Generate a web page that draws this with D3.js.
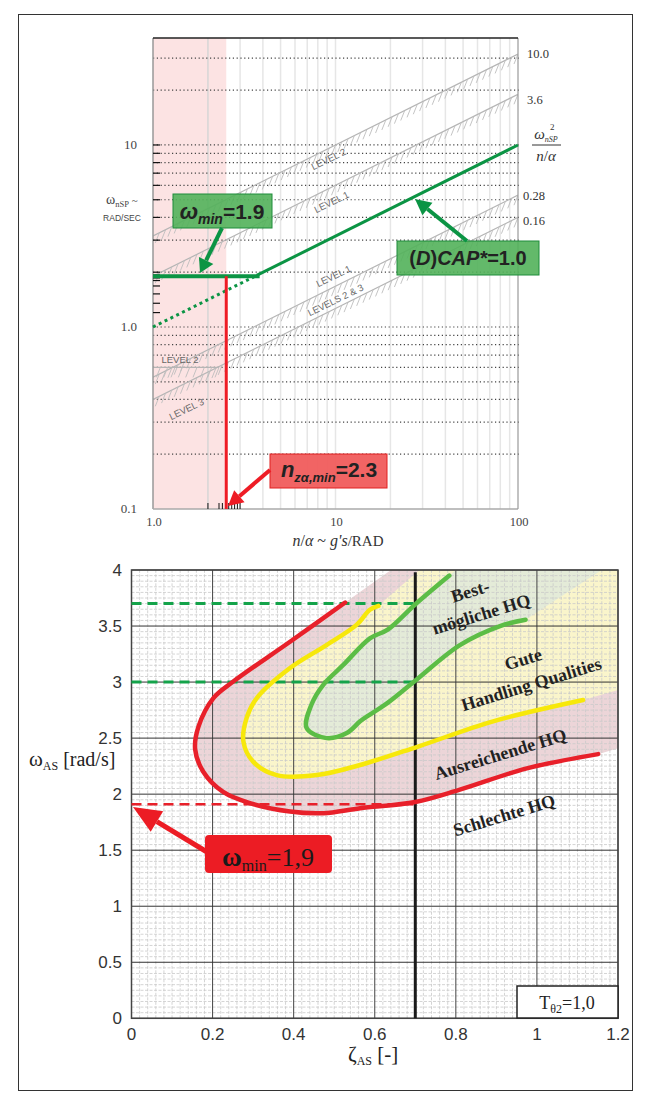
<!DOCTYPE html>
<html>
<head>
<meta charset="utf-8">
<script src="https://cdn.jsdelivr.net/npm/d3@7"></script>
<style>
  body { margin: 0; background: #fff; }
</style>
</head>
<body>
<svg id="fig" width="650" height="1104"></svg>
<script>
// ---------- top chart: CAP diagram (log-log) ----------
const capLabels = ['10.0', '3.6', '0.28', '0.16'];
const capOmegaLeft = [3.16, 1.9, 0.53, 0.40];   // omega at n/alpha = 1
const capOmegaRight = [31.6, 19.0, 5.3, 4.0];   // omega at n/alpha = 100
const gridOmega = [0.2, 0.3, 0.4, 0.5, 0.6, 0.7, 0.8, 0.9, 1, 2, 3, 4, 5, 6, 7, 8, 9, 10, 20, 30];
const gridNalpha = [2, 3, 4, 5, 6, 7, 8, 9, 10, 20, 30, 40, 50, 60, 70, 80, 90];
const leftTickOmega = [10, 9, 8, 7, 6, 5, 4, 3, 2, 1.93, 1.86, 1.8, 1.68, 1.52, 1.35, 1.2];
const bottomTickNalpha = [2, 2.3, 2.4, 2.6, 2.7, 2.8, 2.9, 3.0];
const yTickLabels = ['0.1', '1.0', '10'];
const yTickValues = [0.1, 1, 10];
const xTickLabels = ['1.0', '10', '100'];
const xTickValues = [1, 10, 100];
const capStarN = [1.0, 3.7, 100];
const capStarW = [1.0, 1.92, 10];
const omegaMin = 1.9;
const omegaMinEndN = 3.84;
const nzMin = 2.52;
const level2Omega = 0.6;
const level2EndN = 2.3;

// ---------- bottom chart: omega_AS vs zeta_AS ----------
const redCurve = [[0.527,3.71],[0.391,3.36],[0.251,3.005],[0.202,2.857],[0.165,2.60],[0.157,2.40],
  [0.177,2.20],[0.226,2.02],[0.292,1.92],[0.391,1.845],[0.473,1.83],[0.564,1.875],[0.70,1.93],
  [0.81,2.04],[0.975,2.23],[1.151,2.357]];
const yellowCurve = [[0.609,3.68],[0.588,3.645],[0.555,3.51],[0.481,3.33],[0.391,3.125],[0.309,2.857],
  [0.284,2.68],[0.276,2.47],[0.30,2.29],[0.358,2.17],[0.457,2.17],[0.564,2.26],[0.707,2.425],
  [0.892,2.65],[1.114,2.84]];
const greenCurve = [[0.784,3.95],[0.699,3.69],[0.633,3.47],[0.588,3.39],[0.523,3.155],[0.473,2.976],
  [0.444,2.80],[0.432,2.59],[0.481,2.50],[0.531,2.545],[0.564,2.65],[0.588,2.71],[0.63,2.81],
  [0.699,3.01],[0.81,3.33],[0.909,3.50],[0.972,3.556]];
const redBand = [[1.2,2.41],[1.2,4.0],[0.64,4.0]];
const yellowBand = [[1.2,2.93],[1.2,4.0],[0.71,4.0]];
const greenBand = [[1.16,4.0],[0.80,4.0]];
const dashedGreen = [3.7, 3.0];
const dashedRed = 1.91;
const zetaLimit = 0.7;
const xTicksB = [0, 0.2, 0.4, 0.6, 0.8, 1, 1.2];
const yTicksB = [0, 0.5, 1, 1.5, 2, 2.5, 3, 3.5, 4];

const svg = d3.select('#fig');
const serif = 'Liberation Serif, Times New Roman, serif';
const sans = 'Liberation Sans, Arial, sans-serif';

// outer frame
svg.append('rect').attr('x', 18.5).attr('y', 14.5).attr('width', 614).attr('height', 1076)
  .attr('fill', 'none').attr('stroke', '#333').attr('stroke-width', 1);

function arrow(g, x1, y1, x2, y2, color, w, hl, hw) {
  const a = Math.atan2(y2 - y1, x2 - x1);
  const bx = x2 - hl * Math.cos(a), bY = y2 - hl * Math.sin(a);
  g.append('line').attr('x1', x1).attr('y1', y1).attr('x2', bx).attr('y2', bY)
    .attr('stroke', color).attr('stroke-width', w);
  g.append('path')
    .attr('d', `M${x2},${y2}L${bx + hw * Math.sin(a)},${bY - hw * Math.cos(a)}L${bx - hw * Math.sin(a)},${bY + hw * Math.cos(a)}Z`)
    .attr('fill', color);
}

function rich(g, x, y, parts, opts) {
  const t = g.append('text').attr('x', x).attr('y', y)
    .attr('text-anchor', opts.anchor || 'start')
    .attr('font-family', opts.family).attr('fill', opts.fill || '#222')
    .attr('font-weight', opts.weight || 'normal');
  parts.forEach(p => {
    t.append('tspan').attr('font-size', p.size).attr('font-style', p.italic ? 'italic' : 'normal')
      .attr('dy', p.dy || 0).attr('font-weight', p.weight || null).text(p.t);
  });
  return t;
}

// ================= TOP CHART =================
const tx = d3.scaleLog().domain([1, 100]).range([153, 518]);
const ty = d3.scaleLog().domain([0.1, 38.7]).range([509, 38]);
const topG = svg.append('g');

svg.append('clipPath').attr('id', 'clipTop').append('rect')
  .attr('x', 153).attr('y', 38).attr('width', 365).attr('height', 471);

// pink band (n/alpha below minimum)
topG.append('rect').attr('x', tx(1)).attr('y', 38).attr('width', tx(nzMin) - tx(1)).attr('height', 471)
  .attr('fill', '#fce3e3');

// vertical grid
topG.selectAll('.vg').data(gridNalpha).enter().append('line')
  .attr('x1', d => tx(d)).attr('x2', d => tx(d)).attr('y1', 38).attr('y2', 509)
  .attr('stroke', d => d === 2 ? '#d6d6d6' : '#e6e6e6').attr('stroke-width', 1.5);

// horizontal dotted grid
topG.selectAll('.hg').data(gridOmega).enter().append('line')
  .attr('x1', 153).attr('x2', 519).attr('y1', d => ty(d)).attr('y2', d => ty(d))
  .attr('stroke', '#444').attr('stroke-width', 1.2).attr('stroke-dasharray', '1.2,2.6');

// CAP boundary lines with hatching
const capG = topG.append('g').attr('clip-path', 'url(#clipTop)');
function hatchedLine(x1, y1, x2, y2) {
  capG.append('line').attr('x1', x1).attr('y1', y1).attr('x2', x2).attr('y2', y2)
    .attr('stroke', '#b5b5b5').attr('stroke-width', 1.2);
  const len = Math.hypot(x2 - x1, y2 - y1);
  const n = Math.floor(len / 7);
  for (let i = 0; i <= n; i++) {
    const px = x1 + (x2 - x1) * i / n, py = y1 + (y2 - y1) * i / n;
    capG.append('line').attr('x1', px).attr('y1', py).attr('x2', px - 4).attr('y2', py + 10)
      .attr('stroke', '#bdbdbd').attr('stroke-width', 0.9);
  }
}
capLabels.forEach((c, i) => {
  hatchedLine(tx(1), ty(capOmegaLeft[i]), tx(100), ty(capOmegaRight[i]));
});
hatchedLine(tx(1), ty(level2Omega), tx(level2EndN), ty(level2Omega));

// level labels
const lvl = [
  ['LEVEL 2', 330, 162, -26], ['LEVEL 1', 333, 205, -26], ['LEVEL 1', 335, 279, -26],
  ['LEVELS 2 & 3', 337, 303, -26], ['LEVEL 2', 180, 363, 0], ['LEVEL 3', 188, 412, -26]
];
lvl.forEach(l => {
  topG.append('text').attr('transform', `translate(${l[1]},${l[2]}) rotate(${l[3]})`)
    .attr('text-anchor', 'middle').attr('font-family', sans).attr('font-size', 9.5)
    .attr('fill', '#666').text(l[0]);
});

// frame
topG.append('line').attr('x1', 153).attr('x2', 153).attr('y1', 38).attr('y2', 509).attr('stroke', '#999').attr('stroke-width', 1.5);
topG.append('line').attr('x1', 153).attr('x2', 518).attr('y1', 509).attr('y2', 509).attr('stroke', '#aaa').attr('stroke-width', 1.5);
topG.append('line').attr('x1', 518).attr('x2', 518).attr('y1', 38).attr('y2', 509).attr('stroke', '#999').attr('stroke-width', 1.2);
topG.append('line').attr('x1', 153).attr('x2', 518).attr('y1', 38).attr('y2', 38).attr('stroke', '#222').attr('stroke-width', 1.5);

// ticks
topG.selectAll('.lt').data(leftTickOmega).enter().append('line')
  .attr('x1', 153).attr('x2', 160).attr('y1', d => ty(d)).attr('y2', d => ty(d))
  .attr('stroke', '#111').attr('stroke-width', 1.2);
topG.selectAll('.bt').data(bottomTickNalpha).enter().append('line')
  .attr('x1', d => tx(d)).attr('x2', d => tx(d)).attr('y1', 509).attr('y2', 503)
  .attr('stroke', '#111').attr('stroke-width', 1);

// tick labels
yTickValues.forEach((v, i) => {
  topG.append('text').attr('x', 137).attr('y', ty(v) + 4).attr('text-anchor', 'end')
    .attr('font-family', serif).attr('font-size', 13).attr('fill', '#444').text(yTickLabels[i]);
});
xTickValues.forEach((v, i) => {
  topG.append('text').attr('x', tx(v) + 1).attr('y', 526).attr('text-anchor', 'middle')
    .attr('font-family', serif).attr('font-size', 12.5).attr('fill', '#444').text(xTickLabels[i]);
});
rich(topG, 106, 204, [{t: 'ω', size: 14}, {t: 'nSP', size: 8.5, dy: 3}, {t: ' ~', size: 11, dy: -3}],
  {family: serif, fill: '#444'});
topG.append('text').attr('x', 122).attr('y', 221).attr('text-anchor', 'middle')
  .attr('font-family', sans).attr('font-size', 8.5).attr('fill', '#444').text('RAD/SEC');
rich(topG, 338, 546, [{t: 'n', size: 16, italic: true}, {t: '/', size: 16}, {t: 'α', size: 16, italic: true},
  {t: ' ~ ', size: 16}, {t: "g's", size: 16, italic: true}, {t: '/RAD', size: 15}],
  {family: serif, anchor: 'middle', fill: '#333'});

// right-side CAP labels
const capLabelY = [58, 104, 200, 225];
capLabels.forEach((c, i) => {
  topG.append('text').attr('x', i < 2 ? 527 : 523).attr('y', capLabelY[i])
    .attr('font-family', serif).attr('font-size', 12.5).attr('fill', '#333').text(c);
});
rich(topG, 546, 139, [{t: 'ω', size: 15, italic: true}, {t: 'nSP', size: 8, italic: true, dy: 3}],
  {family: serif, anchor: 'middle', fill: '#333'});
topG.append('text').attr('x', 550).attr('y', 130).attr('font-family', serif).attr('font-size', 9)
  .attr('fill', '#333').text('2');
topG.append('line').attr('x1', 532).attr('x2', 561).attr('y1', 145).attr('y2', 145).attr('stroke', '#333');
rich(topG, 546, 161, [{t: 'n', size: 15, italic: true}, {t: '/', size: 15}, {t: 'α', size: 15, italic: true}],
  {family: serif, anchor: 'middle', fill: '#333'});

// CAP* = 1 line, omega min, n min
const green = '#0b9444', red = '#ee1c25';
topG.append('line').attr('x1', tx(capStarN[0])).attr('y1', ty(capStarW[0]))
  .attr('x2', tx(capStarN[1])).attr('y2', ty(capStarW[1]))
  .attr('stroke', green).attr('stroke-width', 3).attr('stroke-dasharray', '3,3.5');
topG.append('line').attr('x1', tx(capStarN[1])).attr('y1', ty(capStarW[1]))
  .attr('x2', tx(capStarN[2])).attr('y2', ty(capStarW[2]))
  .attr('stroke', green).attr('stroke-width', 3);
topG.append('line').attr('x1', tx(1)).attr('x2', tx(omegaMinEndN)).attr('y1', ty(omegaMin)).attr('y2', ty(omegaMin))
  .attr('stroke', green).attr('stroke-width', 4);
topG.append('line').attr('x1', tx(nzMin)).attr('x2', tx(nzMin)).attr('y1', ty(omegaMin)).attr('y2', ty(0.1))
  .attr('stroke', red).attr('stroke-width', 3);

// annotation boxes
topG.append('rect').attr('x', 173).attr('y', 194).attr('width', 99).attr('height', 34)
  .attr('fill', '#52b15a').attr('fill-opacity', 0.9).attr('stroke', '#1e8c3a');
rich(topG, 222, 219, [{t: 'ω', size: 22, italic: true}, {t: 'min', size: 14, italic: true, dy: 5},
  {t: '=1.9', size: 21, dy: -5}], {family: sans, anchor: 'middle', weight: 'bold'});
arrow(topG, 222, 228, 200, 273, green, 4, 14, 8);

topG.append('rect').attr('x', 397).attr('y', 241).attr('width', 142).attr('height', 34)
  .attr('fill', '#52b15a').attr('fill-opacity', 0.9).attr('stroke', '#1e8c3a');
rich(topG, 468, 265, [{t: '(', size: 20}, {t: 'D', size: 20, italic: true}, {t: ')', size: 20},
  {t: 'CAP*', size: 20, italic: true}, {t: '=1.0', size: 20}], {family: sans, anchor: 'middle', weight: 'bold'});
arrow(topG, 467, 241, 415, 199, green, 4, 16, 8);

topG.append('rect').attr('x', 270).attr('y', 454).attr('width', 117).attr('height', 34)
  .attr('fill', '#f05c5c').attr('fill-opacity', 0.95).attr('stroke', '#e02020');
rich(topG, 329, 477, [{t: 'n', size: 22, italic: true}, {t: 'zα,min', size: 13, italic: true, dy: 5},
  {t: '=2.3', size: 21, dy: -5}], {family: sans, anchor: 'middle', weight: 'bold'});
arrow(topG, 270, 470, 228, 506, red, 4, 15, 8);

// ================= BOTTOM CHART =================
const bx = d3.scaleLinear().domain([0, 1.2]).range([131.5, 618]);
const by = d3.scaleLinear().domain([0, 4]).range([1018.3, 570]);
const bot = svg.append('g');
svg.append('clipPath').attr('id', 'clipBot').append('rect')
  .attr('x', bx(0)).attr('y', by(4)).attr('width', bx(1.2) - bx(0)).attr('height', by(0) - by(4));

const poly = d3.line().x(d => bx(d[0])).y(d => by(d[1]));
const fills = bot.append('g').attr('clip-path', 'url(#clipBot)');
fills.append('path').attr('d', poly(redCurve.concat(redBand)) + 'Z').attr('fill', '#ecd5d8');
fills.append('path').attr('d', poly(yellowCurve.concat(yellowBand)) + 'Z').attr('fill', '#faf5cb');
fills.append('path').attr('d', poly(greenCurve.concat(greenBand)) + 'Z').attr('fill', '#e4ebd8');

// minor grid
const minorX = d3.range(1, 60).filter(i => i % 10 !== 0).map(i => i * 0.02);
const minorY = d3.range(1, 80).filter(i => i % 10 !== 0).map(i => i * 0.05);
bot.selectAll('.mx').data(minorX).enter().append('line')
  .attr('x1', d => bx(d)).attr('x2', d => bx(d)).attr('y1', by(0)).attr('y2', by(4))
  .attr('stroke', '#c9c9c9').attr('stroke-width', 0.8).attr('stroke-dasharray', '3,1.5');
bot.selectAll('.my').data(minorY).enter().append('line')
  .attr('x1', bx(0)).attr('x2', bx(1.2)).attr('y1', d => by(d)).attr('y2', d => by(d))
  .attr('stroke', '#c9c9c9').attr('stroke-width', 0.8).attr('stroke-dasharray', '3,1.5');

// major grid
bot.selectAll('.Mx').data(xTicksB).enter().append('line')
  .attr('x1', d => bx(d)).attr('x2', d => bx(d)).attr('y1', by(0)).attr('y2', by(4))
  .attr('stroke', '#444').attr('stroke-width', 1);
bot.selectAll('.My').data(yTicksB).enter().append('line')
  .attr('x1', bx(0)).attr('x2', bx(1.2)).attr('y1', d => by(d)).attr('y2', d => by(d))
  .attr('stroke', '#333').attr('stroke-width', 1);
bot.append('rect').attr('x', bx(0)).attr('y', by(4)).attr('width', bx(1.2) - bx(0)).attr('height', by(0) - by(4))
  .attr('fill', 'none').attr('stroke', '#444').attr('stroke-width', 1.5);

// zeta limit
bot.append('line').attr('x1', bx(zetaLimit)).attr('x2', bx(zetaLimit)).attr('y1', by(3.98)).attr('y2', by(0))
  .attr('stroke', '#1a1a1a').attr('stroke-width', 3);

// dashed reference lines
dashedGreen.forEach(v => {
  bot.append('line').attr('x1', bx(0)).attr('x2', bx(zetaLimit)).attr('y1', by(v)).attr('y2', by(v))
    .attr('stroke', '#14a34a').attr('stroke-width', 3).attr('stroke-dasharray', '10,6');
});
bot.append('line').attr('x1', bx(0)).attr('x2', bx(zetaLimit)).attr('y1', by(dashedRed)).attr('y2', by(dashedRed))
  .attr('stroke', '#e8202a').attr('stroke-width', 2.5).attr('stroke-dasharray', '10,6');

// contour curves
const curve = d3.line().x(d => bx(d[0])).y(d => by(d[1])).curve(d3.curveCatmullRom.alpha(0.5));
[[redCurve, '#e8202a'], [yellowCurve, '#f7e80a'], [greenCurve, '#5cbd46']].forEach(c => {
  bot.append('path').attr('d', curve(c[0])).attr('fill', 'none').attr('stroke', c[1])
    .attr('stroke-width', 4.5).attr('stroke-linejoin', 'round').attr('stroke-linecap', 'round');
});

// region labels
const regionLabels = [
  ['Best-', 472, 597], ['mögliche HQ', 483, 620], ['Gute', 525, 665],
  ['Handling Qualities', 533, 690], ['Ausreichende HQ', 502, 760], ['Schlechte HQ', 506, 821]
];
regionLabels.forEach(l => {
  bot.append('text').attr('transform', `translate(${l[1]},${l[2]}) rotate(-17)`)
    .attr('text-anchor', 'middle').attr('font-family', serif).attr('font-weight', 'bold')
    .attr('font-size', 18).attr('fill', '#222').text(l[0]);
});

// tick labels
bot.selectAll('.ytl').data(yTicksB).enter().append('text')
  .attr('x', 122).attr('y', d => by(d) + 6).attr('text-anchor', 'end')
  .attr('font-family', sans).attr('font-size', 17).attr('fill', '#333').text(d => d);
bot.selectAll('.xtl').data(xTicksB).enter().append('text')
  .attr('x', d => bx(d)).attr('y', 1040).attr('text-anchor', 'middle')
  .attr('font-family', sans).attr('font-size', 17).attr('fill', '#333').text(d => d);

rich(bot, 29, 766, [{t: 'ω', size: 21}, {t: 'AS', size: 12, dy: 4}, {t: ' [rad/s]', size: 20, dy: -4}],
  {family: serif, fill: '#222'});
rich(bot, 348, 1061, [{t: 'ζ', size: 21}, {t: 'AS', size: 12, dy: 4}, {t: ' [-]', size: 21, dy: -4}],
  {family: serif, fill: '#222'});

// omega min box
bot.append('rect').attr('x', 205).attr('y', 835).attr('width', 127).attr('height', 38).attr('rx', 4)
  .attr('fill', '#ec1c24');
rich(bot, 268, 866, [{t: 'ω', size: 27, weight: 'bold'}, {t: 'min', size: 16, dy: 5},
  {t: '=1,9', size: 26, dy: -5}], {family: serif, anchor: 'middle', fill: '#1a1a1a'});
arrow(bot, 207, 852, 133, 807, '#ec1c24', 5, 28, 12);

// T box
bot.append('rect').attr('x', 517).attr('y', 986).attr('width', 101).attr('height', 32)
  .attr('fill', '#fff').attr('stroke', '#222').attr('stroke-width', 1.5);
rich(bot, 567, 1009, [{t: 'T', size: 18}, {t: 'θ2', size: 12, dy: 4}, {t: '=1,0', size: 18, dy: -4}],
  {family: serif, anchor: 'middle', fill: '#222'});
</script>
</body>
</html>
